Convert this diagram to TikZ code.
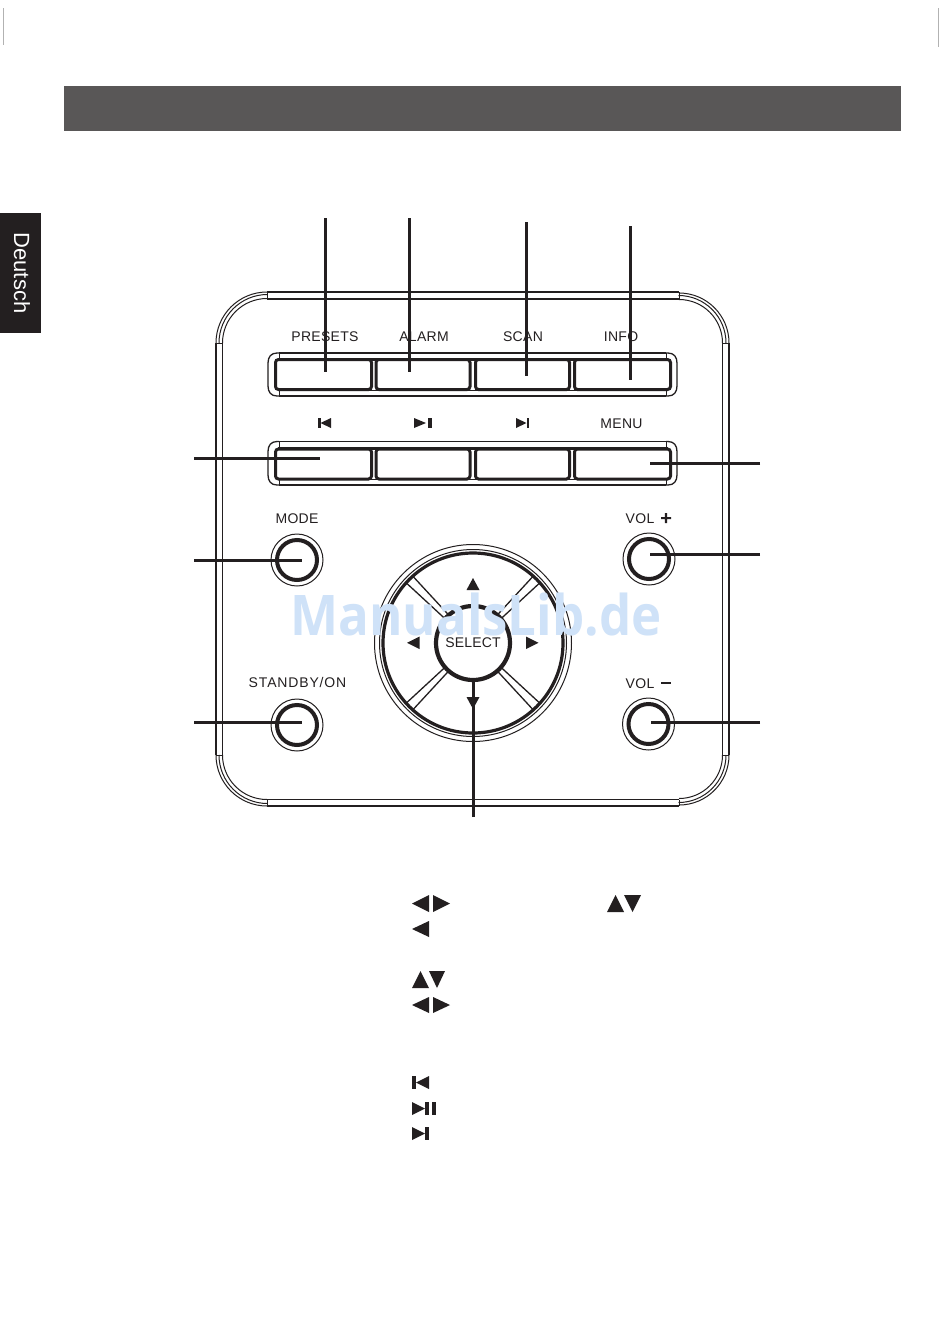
\documentclass[tikz,border=0pt]{standalone}
\usepackage{fontspec}
\usetikzlibrary{calc}
\setmainfont{Liberation Sans}
\newfontfamily\wmfont{Open Sans}
\definecolor{ink}{HTML}{231F20}
\definecolor{headgrey}{HTML}{595757}
\definecolor{wm}{HTML}{CFE2F8}
\newcommand{\lblfont}{\fontsize{14}{16}\selectfont}
\tikzset{
  thin line/.style={draw=ink,line width=1pt},
  mid line/.style={draw=ink,line width=1.3pt},
  leader/.style={draw=ink,line width=3pt},
  lbl/.style={inner sep=0pt,font=\lblfont,text=ink},
  btn/.style={draw=ink,line width=3pt,rounded corners=3pt,minimum height=30pt,inner sep=0pt,fill=white},
  tri/.style={fill=ink,draw=none},
  knob/.style={circle,draw=ink,line width=4pt,minimum size=40pt,inner sep=0pt,fill=white},
  knobouter/.style={circle,draw=ink,line width=1pt,minimum size=52pt,inner sep=0pt}
}
% triangles: x1 x2 y1 y2
\newcommand{\triL}[4]{\fill[tri] (#2,#3) -- (#1,{(#3+#4)/2}) -- (#2,#4) -- cycle;}
\newcommand{\triR}[4]{\fill[tri] (#1,#3) -- (#2,{(#3+#4)/2}) -- (#1,#4) -- cycle;}
\newcommand{\triU}[4]{\fill[tri] (#1,#4) -- ({(#1+#2)/2},#3) -- (#2,#4) -- cycle;}
\newcommand{\triD}[4]{\fill[tri] (#1,#3) -- ({(#1+#2)/2},#4) -- (#2,#3) -- cycle;}
\newcommand{\barV}[4]{\fill[tri] (#1,#3) rectangle (#2,#4);}
\newcommand{\strip}[2]{%
  % outer frame of a button strip: top y #1, bottom y #2
  \draw[mid line] (279,#1) -- (666,#1);
  \draw[mid line] (279,#2) -- (666,#2);
  \draw[mid line] (279,#1) -- (277,#1) .. controls (271,#1) and (268,{#1+4}) .. (268,{#1+10})
     -- (268,{#2-10}) .. controls (268,{#2-4}) and (271,#2) .. (277,#2) -- (279,#2);
  \draw[mid line] (666,#1) -- (668,#1) .. controls (674,#1) and (677,{#1+4}) .. (677,{#1+10})
     -- (677,{#2-10}) .. controls (677,{#2-4}) and (674,#2) .. (668,#2) -- (666,#2);
  \draw[thin line] (279,#1) -- (279,{#1+5}) (279,{#2-5}) -- (279,#2);
  \draw[thin line] (666,#1) -- (666,{#1+5}) (666,{#2-5}) -- (666,#2);
  \draw[draw=ink,line width=3pt] (278,{#1+6.5}) -- (668,{#1+6.5});
  \draw[mid line] (278,{#2-5.5}) -- (668,{#2-5.5});
}
\begin{document}
\begin{tikzpicture}[x=1pt,y=-1pt]
\useasboundingbox (0,0) rectangle (950,1339);
\fill[white] (0,0) rectangle (950,1339);
% trim marks
\draw[gray!60,line width=0.6pt] (3.5,8) -- (3.5,45);
\draw[gray!60,line width=0.6pt] (938.5,8) -- (938.5,47);
% header and side tab
\fill[headgrey] (64,86) rectangle (901,131);
\fill[ink] (0,213) rectangle (41,333);
\node[rotate=-90,inner sep=0pt,text=white,font=\fontsize{22}{24}\selectfont] (tab) at (22,273) {Deutsch};
% panel
\draw[mid line] (267,292) -- (679,292);
\draw[mid line] (267,299) -- (679,299);
\draw[mid line] (267,799.5) -- (679,799.5);
\draw[mid line] (267,806) -- (679,806);
\draw[mid line] (216,343) -- (216,755);
\draw[mid line] (222.5,343) -- (222.5,755);
\draw[mid line] (729,343) -- (729,755);
\draw[mid line] (722.5,343) -- (722.5,755);
\draw[thin line] (216,343) arc[start angle=180,end angle=270,radius=51];
\draw[thin line] (219,343) arc[start angle=180,end angle=270,radius=48.5];
\draw[thin line] (222.5,343) arc[start angle=180,end angle=270,radius=44.5];
\draw[thin line] (729,343) arc[start angle=0,end angle=-90,radius=50];
\draw[thin line] (726,343) arc[start angle=0,end angle=-90,radius=47.5];
\draw[thin line] (722.5,343) arc[start angle=0,end angle=-90,radius=43.5];
\draw[thin line] (216,755) arc[start angle=180,end angle=90,radius=51];
\draw[thin line] (219,755) arc[start angle=180,end angle=90,radius=48.5];
\draw[thin line] (222.5,755) arc[start angle=180,end angle=90,radius=44.5];
\draw[thin line] (729,755) arc[start angle=0,end angle=90,radius=50];
\draw[thin line] (726,755) arc[start angle=0,end angle=90,radius=47.5];
\draw[thin line] (722.5,755) arc[start angle=0,end angle=90,radius=43.5];
\draw[thin line] (216,343) -- (222.5,343) (729,343) -- (722.5,343) (216,755) -- (222.5,755) (729,755) -- (722.5,755)
  (267,292) -- (267,299) (679,292) -- (679,299) (267,799.5) -- (267,806) (679,799.5) -- (679,806);
% strips
\strip{353}{396}
\strip{441.5}{485}
% buttons
\node[btn,minimum width=96pt] (b11) at (323.5,374.5) {};
\node[btn,minimum width=94pt] (b12) at (423,374.5) {};
\node[btn,minimum width=94pt] (b13) at (522.5,374.5) {};
\node[btn,minimum width=96pt] (b14) at (622.5,374.5) {};
\node[btn,minimum width=96pt] (b21) at (323.5,464) {};
\node[btn,minimum width=94pt] (b22) at (423,464) {};
\node[btn,minimum width=94pt] (b23) at (522.5,464) {};
\node[btn,minimum width=96pt] (b24) at (622.5,464) {};
% labels
\node[lbl] (lpresets) at (325,336.5) {\addfontfeatures{LetterSpace=2}PRESETS};
\node[lbl] (lalarm) at (424,336.5) {\addfontfeatures{LetterSpace=2}ALARM};
\node[lbl] (lscan) at (523,336.5) {\addfontfeatures{LetterSpace=2}SCAN};
\node[lbl] (linfo) at (621,336.5) {\addfontfeatures{LetterSpace=2}INFO};
\node[lbl] (lmenu) at (621.5,423.5) {\addfontfeatures{LetterSpace=2}MENU};
\node[lbl] (lmode) at (297,518.5) {\addfontfeatures{LetterSpace=2}MODE};
\node[lbl] (lstandby) at (297.5,682.5) {\addfontfeatures{LetterSpace=6}STANDBY/ON};
\node[lbl] (lvolp) at (640,518.5) {\addfontfeatures{LetterSpace=2}VOL};
\node[lbl] (lvolm) at (640,683.5) {\addfontfeatures{LetterSpace=2}VOL};
\fill[ink] (661,517) rectangle (671,519.2) (664.9,513) rectangle (667.1,523);
\fill[ink] (661,681.5) rectangle (671,683.7);
% strip icons
\barV{318}{320.5}{418}{428}\triL{320.5}{331}{418}{428}
\triR{414}{426}{418}{428}\barV{428}{432}{418}{428}
\triR{516}{526.5}{418}{428}\barV{526.5}{529}{418}{428}
% round knobs
\node[knobouter] (ko1) at (297,560) {};
\node[knob] (k1) at (297,560) {};
\node[knobouter] (ko2) at (297,725) {};
\node[knob] (k2) at (297,725) {};
\node[knobouter] (ko3) at (649,559) {};
\node[knob] (k3) at (649,559) {};
\node[knobouter] (ko4) at (648.5,724) {};
\node[knob] (k4) at (648.5,724) {};
% direction pad
\coordinate (pad) at (473,643);
\draw[thin line] (pad) circle[radius=98.5];
\draw[thin line] (pad) circle[radius=93.5];
\draw[draw=ink,line width=3.2pt] (pad) circle[radius=90];
\foreach \a in {45,135,225,315}{
  \draw[mid line] ($(pad)+(\a-4:38)$) -- ($(pad)+(\a-3:89)$);
  \draw[mid line] ($(pad)+(\a+4:38)$) -- ($(pad)+(\a+3:89)$);
}
\node[circle,draw=ink,line width=4.2pt,minimum size=74pt,inner sep=0pt,fill=white,font=\lblfont,text=ink] (sel) at (pad) {\addfontfeatures{LetterSpace=1}SELECT};
\triU{466.5}{479.5}{578}{590}
\triD{466.5}{479.5}{697}{709}
\triL{407}{419.5}{636.5}{649}
\triR{526}{538.5}{636.5}{649}
% leaders
\coordinate (e1) at (325,218); \coordinate (t1) at (325,372);
\coordinate (e2) at (409,218); \coordinate (t2) at (409,372);
\coordinate (e3) at (526,222); \coordinate (t3) at (526,376);
\coordinate (e4) at (630,226); \coordinate (t4) at (630,380);
\coordinate (e5) at (194,458); \coordinate (t5) at (320,458);
\coordinate (e6) at (760,463); \coordinate (t6) at (650,463);
\coordinate (e7) at (194,560); \coordinate (t7) at (302,560);
\coordinate (e8) at (760,554); \coordinate (t8) at (650,554);
\coordinate (e9) at (194,722); \coordinate (t9) at (302,722);
\coordinate (e10) at (760,722); \coordinate (t10) at (651,722);
\coordinate (e11) at (473,817); \coordinate (t11) at (473,680);
\foreach \i in {1,...,11}{\draw[leader] (e\i) -- (t\i);}
% watermark
\node[inner sep=0pt,anchor=base,text=wm,font=\wmfont\bfseries\fontsize{56}{60}\selectfont,xscale=0.91] (wmark) at (476,635) {ManualsLib.de};
% text icons below
\triL{412}{429}{895}{912}\triR{433}{450}{895}{912}
\triU{607}{624}{895}{912}\triD{624}{641}{895}{912}
\triL{412}{429}{921}{937}
\triU{412}{429}{971}{988}\triD{429}{445}{971}{988}
\triL{412}{429}{997}{1013}\triR{433}{450}{997}{1013}
\barV{412}{416}{1076}{1089}\triL{416}{429}{1076}{1089}
\triR{412}{425}{1102}{1115}\barV{425}{429}{1102}{1115}\barV{432}{436}{1102}{1115}
\triR{412}{425}{1127}{1140}\barV{425}{429}{1127}{1140}
\end{tikzpicture}
\end{document}
